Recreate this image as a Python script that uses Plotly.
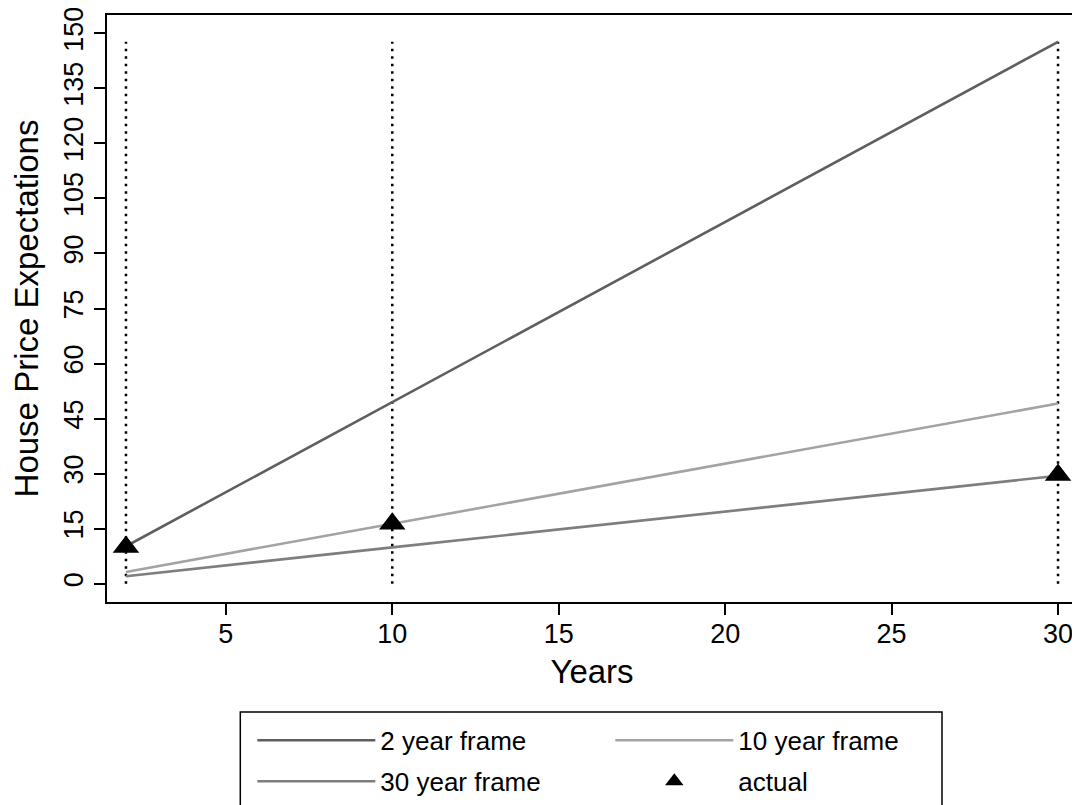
import plotly.graph_objects as go

years = [2, 10, 30]
frame_2yr = [10.2, 49.5, 147.7]
frame_10yr = [3.2, 16.3, 49.1]
frame_30yr = [2.0, 9.9, 29.4]
actual = [10.0, 16.3, 29.6]
y_ticks = list(range(0, 151, 15))
x_ticks = [5, 10, 15, 20, 25, 30]

FONT = "Liberation Sans, Arial, sans-serif"

# vertical dotted guides at each horizon, from 0 to top of 2-year frame
vx, vy = [], []
top = max(frame_2yr)
for yr in years:
    vx += [yr, yr, None]
    vy += [0, top, None]

fig = go.Figure()
fig.add_trace(go.Scatter(x=vx, y=vy, mode="lines", showlegend=False,
                         line=dict(color="black", width=2.5, dash="2.5px,5px"),
                         hoverinfo="skip"))
fig.add_trace(go.Scatter(x=years, y=frame_2yr, mode="lines", name="2 year frame",
                         line=dict(color="#5e5e5e", width=2.6), legend="legend"))
fig.add_trace(go.Scatter(x=years, y=frame_10yr, mode="lines", name="10 year frame",
                         line=dict(color="#a3a3a3", width=2.6), legend="legend"))
fig.add_trace(go.Scatter(x=years, y=frame_30yr, mode="lines", name="30 year frame",
                         line=dict(color="#7e7e7e", width=2.6), legend="legend2"))
fig.add_trace(go.Scatter(x=years, y=actual, mode="markers", name="actual",
                         marker=dict(symbol="triangle-up", size=23, color="black"),
                         legend="legend2"))

OFF = 8  # page body margin
W, H = 1080, 805
# target plot area in window pixels
PL, PR, PT, PB = 106.7, 1076.7, 15, 601.7
L = PL - OFF
T = PT - OFF
R = W - (PR - OFF)
B = H - (PB - OFF)
ph = PB - PT
pw = PR - PL

def py(pix):
    return (PB - pix) / ph

def px(pix):
    return (pix - PL) / pw

legend_common = dict(orientation="h", xanchor="left", yanchor="middle",
                     entrywidth=225, font=dict(family=FONT, size=26, color="black"),
                     bgcolor="rgba(0,0,0,0)", itemwidth=118, tracegroupgap=0)

fig.update_layout(
    width=W, height=H,
    margin=dict(l=L, r=R, t=T, b=B, autoexpand=False),
    paper_bgcolor="white", plot_bgcolor="white",
    font=dict(family=FONT, color="black"),
    xaxis=dict(range=[1.43, 30.57], tickvals=x_ticks, ticks="outside", ticklen=11,
               tickwidth=1.5, tickcolor="black", showline=True, linecolor="black",
               linewidth=2, mirror=True, showgrid=False, zeroline=False,
               ticklabeloverflow="allow", ticklabelstandoff=-4,
               tickfont=dict(family=FONT, size=27),
               title=dict(text="Years", font=dict(family=FONT, size=33), standoff=11)),
    yaxis=dict(range=[-5, 155], tickvals=y_ticks, ticks="outside", ticklen=11,
               tickwidth=1.5, tickcolor="black", showline=True, linecolor="black",
               linewidth=2, mirror=True, showgrid=False, zeroline=False,
               ticklabeloverflow="allow",
               tickangle=-90, tickfont=dict(family=FONT, size=27),
               title=dict(text="House Price Expectations", font=dict(family=FONT, size=33),
                          standoff=26)),
    legend=dict(x=px(252), y=py(740), **legend_common),
    legend2=dict(x=px(252), y=py(781), **legend_common),
    shapes=[dict(type="rect", xref="paper", yref="paper",
                 x0=px(240), x1=px(941.7), y0=py(711.7), y1=py(830),
                 line=dict(color="black", width=1.5))],
    showlegend=True,
)

fig.write_html("out.html")
